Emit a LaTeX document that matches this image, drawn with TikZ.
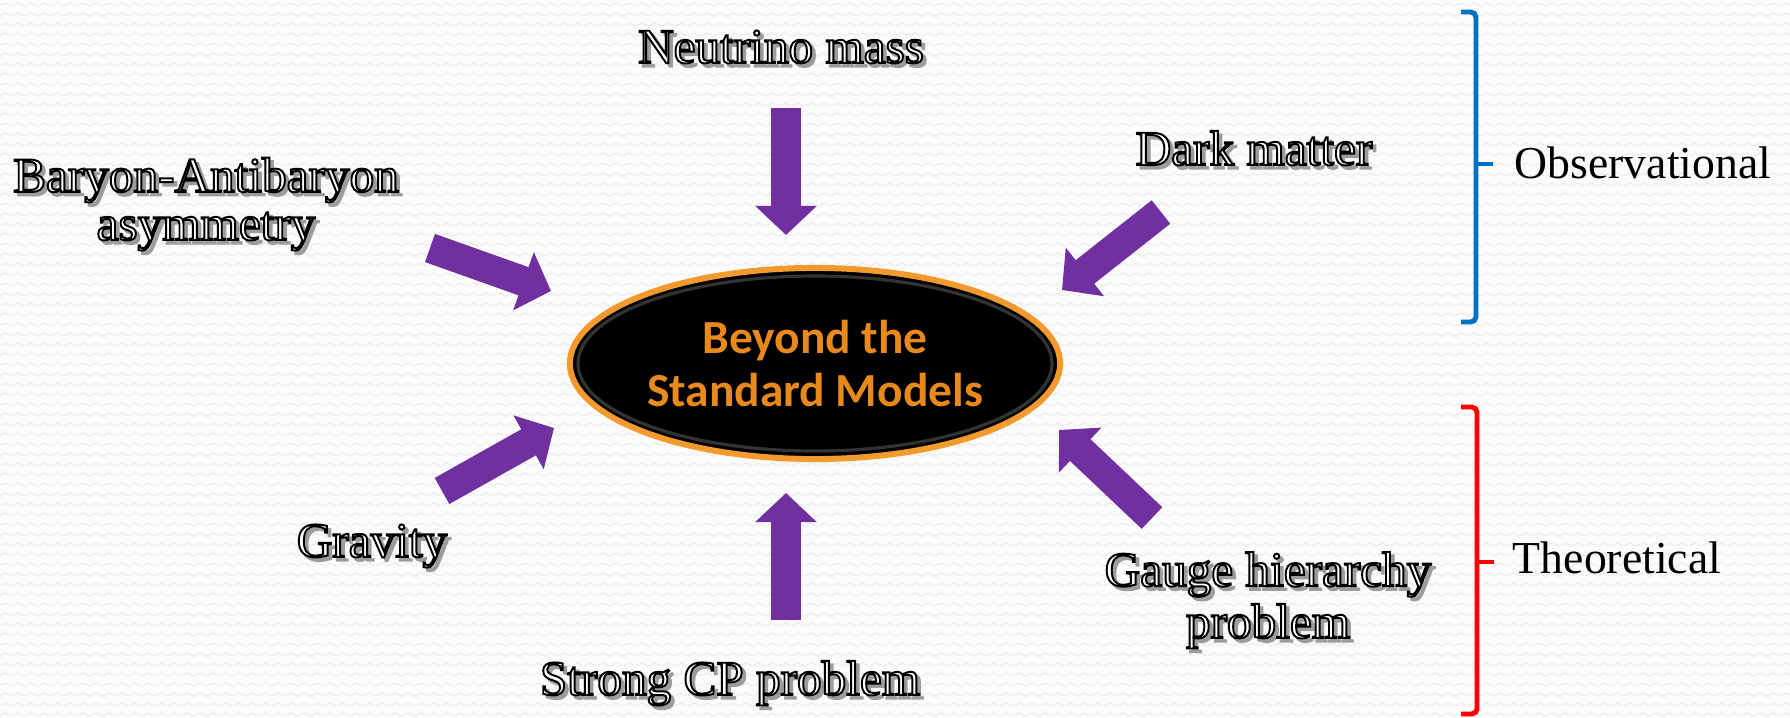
\documentclass[tikz,border=0pt]{standalone}
\usepackage{fontspec}
\setmainfont{Liberation Serif}
\newfontfamily\bsmfont{Carlito}
\usetikzlibrary{arrows.meta,shapes.geometric,patterns.meta}

\definecolor{arrowpurple}{HTML}{7030A0}
\definecolor{ringorange}{HTML}{F29A2E}
\definecolor{textorange}{HTML}{E8891C}
\definecolor{obsblue}{HTML}{0070C0}
\definecolor{theored}{HTML}{FF0000}
\definecolor{paper}{HTML}{FBFBFB}
\definecolor{paperline}{HTML}{EBEBEB}
\definecolor{engrave}{HTML}{9C9C9C}

% white letters stroked in black (text render mode 2), grey drop shadow behind
\newcommand\engraved[1]{%
  \makebox[0pt][l]{\kern1pt\raisebox{-1pt}{\textcolor{engrave}{%
    \special{pdf:literal direct 2 Tr 0.6 w}#1\special{pdf:literal direct 0 Tr}}}}%
  \textcolor{white}{\special{pdf:literal direct 2 Tr 0.55 w 0 G}#1\special{pdf:literal direct 0 Tr}}}

\tikzdeclarepattern{
  name=zigzag paper,
  type=uncolored,
  bounding box={(0,0) and (1.3mm,1mm)},
  tile size={(1.3mm,1mm)},
  code={
    \draw[line width=0.35pt] (0,0.35mm) -- (0.65mm,0.65mm) -- (1.3mm,0.35mm);
  }
}

\tikzset{
    problem/.style = {
        inner sep=0pt,
        anchor=base,
        align=center,
        font=\fontsize{14}{13.7}\selectfont
    },
    kind/.style = {
        inner sep=0pt,
        anchor=base,
        font=\fontsize{13}{15}\selectfont
    },
    push/.style = {
        arrowpurple,
        line width=8.5pt,
        -{Triangle[width=17.1pt,length=8.3pt]}
    },
    bracket/.style = {
        line width=1.4pt,
        rounded corners=1.5pt
    }
}

\begin{document}
\begin{tikzpicture}[x=0.01cm,y=-0.01cm]
    % Paper
    \useasboundingbox (0,0) rectangle (1790,718);
    \fill[paper] (0,0) rectangle (1790,718);
    \fill[pattern=zigzag paper, pattern color=paperline] (0,0) rectangle (1790,718);

    % Centre
    \node[ellipse, draw=ringorange, line width=1.7pt, fill=black,
          minimum width=4.9cm, minimum height=1.91cm, inner sep=0pt,
          text=textorange, align=center,
          font=\bsmfont\bfseries\fontsize{13.5}{14.8}\selectfont] (bsm) at (815,363.5)
          {Beyond the\\Standard Models};
    \draw[black!80, line width=0.9pt] (bsm.center) ellipse (237 and 87.5);

    % Problems (base = last line)
    \node[problem] (nu) at (781,63) {\engraved{Neutrino mass}};
    \node[problem] (baryon) at (206,240) {\engraved{Baryon-Antibaryon}\\\engraved{asymmetry}};
    \node[problem] (dm) at (1254,165) {\engraved{Dark matter}};
    \node[problem] (grav) at (372,557) {\engraved{Gravity}};
    \node[problem] (cp) at (730,695) {\engraved{Strong CP problem}};
    \node[problem] (gauge) at (1268,638) {\engraved{Gauge hierarchy}\\\engraved{problem}};

    % Arrows
    \coordinate (nu-tail) at (786,108);      \coordinate (nu-tip) at (786,235);
    \coordinate (baryon-tail) at (430,248);  \coordinate (baryon-tip) at (551,291);
    \coordinate (dm-tail) at (1161,212);     \coordinate (dm-tip) at (1062,290);
    \coordinate (grav-tail) at (442,491);    \coordinate (grav-tip) at (554,428);
    \coordinate (cp-tail) at (786,620);      \coordinate (cp-tip) at (786,493);
    \coordinate (gauge-tail) at (1152,518);  \coordinate (gauge-tip) at (1059,430);
    \foreach \p in {nu,baryon,dm,grav,cp,gauge}
        \draw[push] (\p-tail) -- (\p-tip);

    % Observational
    \draw[bracket, obsblue] (1461,12) -| (1476,322) -- (1461,322);
    \draw[bracket, obsblue] (1476,164) -- (1493,164);
    \node[kind] (obs) at (1643,178) {Observational};

    % Theoretical
    \draw[bracket, theored] (1461,407) -| (1477,714) -- (1461,714);
    \draw[bracket, theored] (1477,562) -- (1494,562);
    \node[kind] (theo) at (1617,573) {Theoretical};
\end{tikzpicture}
\end{document}
